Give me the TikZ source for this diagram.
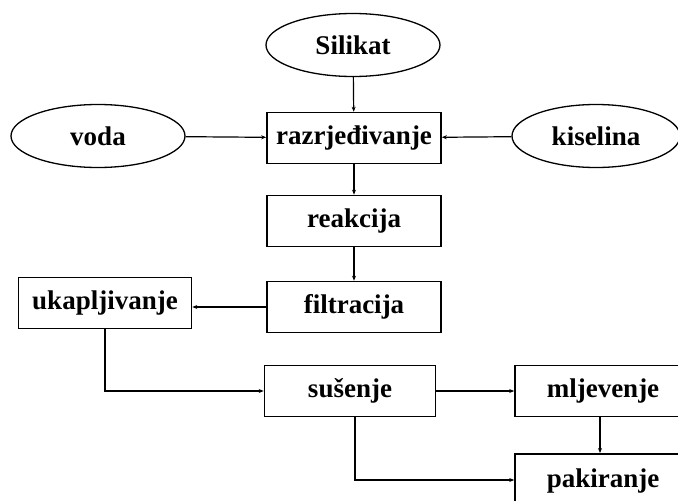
\documentclass[tikz,border=0pt]{standalone}
\usepackage{fontspec}
\setmainfont{Liberation Serif}
\usetikzlibrary{shapes.geometric,arrows.meta}
\begin{document}
\begin{tikzpicture}[x=1pt, y=-1pt,
        box/.style={draw, line width=1.6pt, rectangle, minimum width=172pt, minimum height=51pt, inner sep=0pt},
        src/.style={draw, line width=1.3pt, ellipse, minimum width=174pt, minimum height=63pt, inner sep=0pt},
        flow/.style={line width=1.2pt, -{Stealth[length=5pt, width=4pt]}},
        every node/.style={font=\fontsize{27}{30}\selectfont\bfseries}]
            \useasboundingbox (0, 0) rectangle (678, 501);
            \node[src] (silikat) at (353, 45) {Silikat};
            \node[src] (voda) at (98, 136) {voda};
            \node[src, minimum width=168pt] (kiselina) at (596, 136) {kiselina};
            \node[box, minimum width=174pt] (razrj) at (354, 138) {razrjeđivanje};
            \node[box, minimum width=174pt] (reakcija) at (354, 221) {reakcija};
            \node[box, minimum width=174pt] (filtracija) at (354, 307) {filtracija};
            \node[box, minimum width=173pt] (ukap) at (105, 303) {ukapljivanje};
            \node[box, minimum width=171pt] (susenje) at (350, 391) {sušenje};
            \node[box, minimum width=176pt] (mljevenje) at (603, 391) {mljevenje};
            % runs off the page at the bottom
            \node[box, minimum width=176pt, minimum height=0pt, text height=34pt, text depth=40pt,
                anchor=north] (pakiranje) at (603, 453) {pakiranje};
            \draw[flow] (silikat) -- (razrj);
            \draw[flow] (voda) -- (razrj);
            \draw[flow] (kiselina) -- (razrj);
            \draw[flow] (razrj) -- (reakcija);
            \draw[flow] (reakcija.south) -- (reakcija.south |- filtracija.north);
            \draw[flow] (filtracija) -- (filtracija.west -| ukap.east);
            \draw[flow] (ukap.south) |- (susenje.west);
            \draw[flow] (susenje) -- (mljevenje);
            \draw[flow] (mljevenje.south -| 600, 0) -- (pakiranje.north -| 600, 0);
            \draw[flow] (susenje.south -| 355, 0) |- (pakiranje.west |- 0, 480);
        \end{tikzpicture}
\end{document}
